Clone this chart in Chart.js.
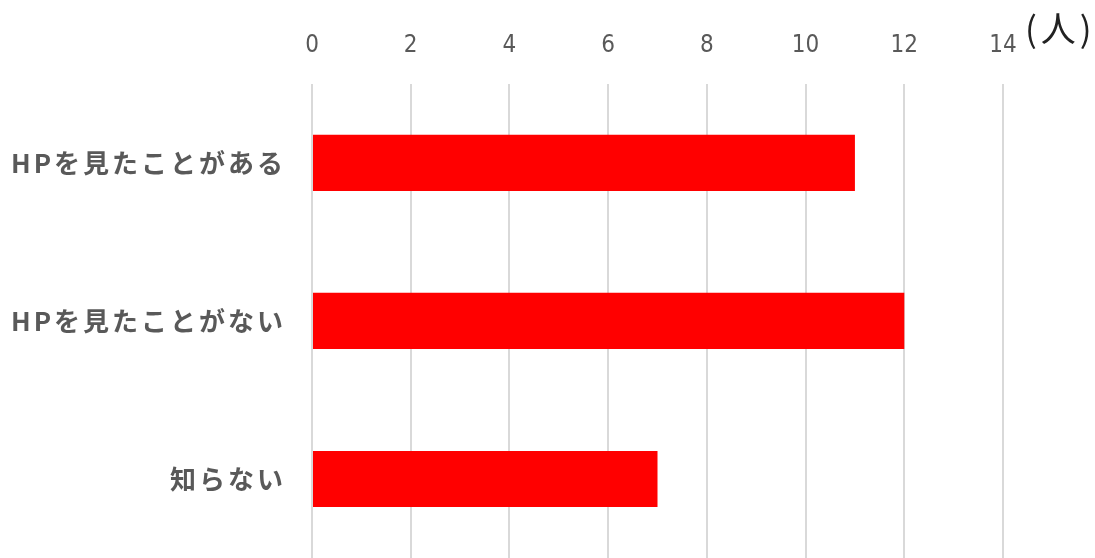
<!DOCTYPE html>
<html>
<head>
<meta charset="utf-8">
<script src="https://cdn.jsdelivr.net/npm/chart.js@4"></script>
<style>
  body { margin: 0; background: #fff; }
  #wrap { width: 1095px; height: 558px; position: relative; }
</style>
</head>
<body>
<div id="wrap"><canvas id="myChart"></canvas></div>
<script>
var categories = ['HPを見たことがある', 'HPを見たことがない', '知らない']
var counts = [11, 12, 7]
var xTicks = [0, 2, 4, 6, 8, 10, 12, 14]
var unitLabel = '(人)'

// spaced category labels + unit text next to the last tick
var unitPlugin = {
    id: 'unit',
    beforeDraw: function (chart) {
        chart.ctx.letterSpacing = '3px'
    },
    afterDatasetsDraw: function (chart) {
        chart.ctx.letterSpacing = '0px'
    },
    afterDraw: function (chart) {
        var ctx = chart.ctx
        var x = chart.scales.x
        ctx.save()
        ctx.letterSpacing = '4px'
        ctx.font = '35px "Noto Sans CJK JP"'
        ctx.fillStyle = '#222'
        ctx.textBaseline = 'middle'
        ctx.textAlign = 'left'
        ctx.fillText(unitLabel, x.getPixelForValue(xTicks[xTicks.length - 1]) + 22, 29)
        ctx.restore()
    }
}

var ctx = document.getElementById('myChart').getContext('2d')
var myChart = new Chart(ctx, {
    type: 'bar',
    data: {
        labels: categories,
        datasets: [{
            data: counts,
            backgroundColor: '#ff0000',
            categoryPercentage: 1,
            barPercentage: 0.355
        }]
    },
    plugins: [unitPlugin],
    options: {
        indexAxis: 'y',
        responsive: true,
        maintainAspectRatio: false,
        animation: false,
        layout: { padding: { top: 7, right: 92, left: 0, bottom: 0 } },
        plugins: {
            legend: { display: false },
            tooltip: { enabled: false }
        },
        scales: {
            x: {
                position: 'top',
                min: 0,
                max: 14,
                afterBuildTicks: function (s) {
                    s.ticks = xTicks.map(function (v) { return { value: v } })
                },
                grid: { color: '#d9d9d9', lineWidth: 2, drawTicks: false },
                border: { display: false },
                ticks: {
                    z: 1,
                    padding: 24,
                    color: '#595959',
                    font: { family: '"Liberation Sans Narrow", "DejaVu Sans Condensed", sans-serif', size: 24 }
                }
            },
            y: {
                afterFit: function (s) {
                    s.width = 312
                    s.paddingTop = 0
                    s.paddingBottom = 0
                },
                grid: { display: false },
                border: { display: false },
                ticks: {
                    padding: 18,
                    color: '#595959',
                    font: { family: '"Noto Sans CJK JP"', size: 26, weight: 'bold' }
                }
            }
        }
    }
})
</script>
</body>
</html>
